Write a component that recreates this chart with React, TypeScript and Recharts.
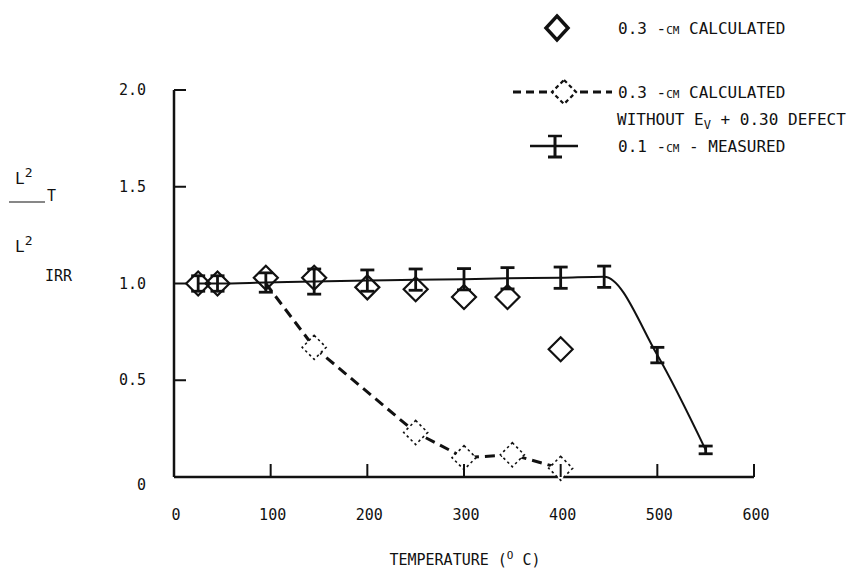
import React from "react";
import { ComposedChart, Line, XAxis, YAxis, ErrorBar } from "recharts";

// 0.3-cm calculated (open diamonds)
const calcX = [25, 45, 95, 145, 200, 250, 300, 345, 400];
const calcY = [1.0, 1.0, 1.03, 1.03, 0.98, 0.97, 0.93, 0.93, 0.66];

// 0.3-cm calculated without Ev + 0.30 defect (dotted diamonds, dashed line)
const noDefX = [95, 145, 250, 300, 350, 400];
const noDefY = [1.0, 0.67, 0.23, 0.1, 0.115, 0.045];

// 0.1-cm measured (error bars, solid line)
const measX = [25, 45, 95, 145, 200, 250, 300, 345, 400, 445, 500, 550];
const measY = [1.0, 1.0, 1.005, 1.01, 1.015, 1.02, 1.022, 1.027, 1.03, 1.035, 0.63, 0.14];
const measErr = [0.04, 0.04, 0.05, 0.065, 0.055, 0.055, 0.055, 0.055, 0.055, 0.055, 0.04, 0.02];

const xTicks = [0, 100, 200, 300, 400, 500, 600];
const yTicks = [0, 0.5, 1.0, 1.5, 2.0];

const calcData = calcX.map((x, i) => ({ x, y: calcY[i] }));
const noDefData = noDefX.map((x, i) => ({ x, y: noDefY[i] }));
const measData = measX.map((x, i) => ({ x, y: measY[i], err: measErr[i] }));

const FONT = "'DejaVu Sans Mono', monospace";
const INK = "#111";

const R = 12;
const Y_AXIS_W = 174;
const X_TICK_LEN = 13;
const Y_TICK_LEN = 12;
const X_LABEL_GAP = 38;
const Y_LABEL_GAP = 28;

const SolidDiamond = (props: any) => {
  const { cx, cy, index } = props;
  if (cx == null || cy == null) return <g key={`sd${index}`} />;
  return (
    <path
      key={`sd${index}`}
      d={`M${cx},${cy - R} L${cx + R},${cy} L${cx},${cy + R} L${cx - R},${cy} Z`}
      fill="none"
      stroke={INK}
      strokeWidth={2.2}
    />
  );
};

const DottedDiamond = (props: any) => {
  const { cx, cy, index } = props;
  if (cx == null || cy == null || index === 0) return <g key={`dd${index}`} />;
  return (
    <path
      key={`dd${index}`}
      d={`M${cx},${cy - R} L${cx + R},${cy} L${cx},${cy + R} L${cx - R},${cy} Z`}
      fill="#fff"
      stroke={INK}
      strokeWidth={1.6}
      strokeDasharray="2.5 3"
    />
  );
};

const yFmt = (v: number) => (v === 0 ? "0" : v.toFixed(1));

const XTick = (props: any) => {
  const { x, y, payload, index } = props;
  return (
    <g key={`xt${index}`}>
      {payload.value !== 0 && (
        <line x1={x} y1={y} x2={x} y2={y - X_TICK_LEN} stroke={INK} strokeWidth={2} />
      )}
      <text
        x={x + 2}
        y={y + X_LABEL_GAP}
        textAnchor="middle"
        dominantBaseline="central"
        fontSize={15}
        fontFamily={FONT}
        fill={INK}
      >
        {payload.value}
      </text>
    </g>
  );
};

const YTick = (props: any) => {
  const { y, payload, index } = props;
  const ax = Y_AXIS_W;
  return (
    <g key={`yt${index}`}>
      {payload.value !== 0 && (
        <line x1={ax} y1={y} x2={ax + Y_TICK_LEN} y2={y} stroke={INK} strokeWidth={2} />
      )}
      <text
        x={ax - Y_LABEL_GAP}
        y={payload.value === 0 ? y + 8 : y}
        textAnchor="end"
        dominantBaseline="central"
        fontSize={15}
        fontFamily={FONT}
        fill={INK}
      >
        {yFmt(payload.value)}
      </text>
    </g>
  );
};

export default function App() {
  return (
    <div style={{ position: "absolute", left: 0, top: 0, width: 851, height: 582, background: "#fff" }}>
      <ComposedChart
        width={851}
        height={582}
        margin={{ top: 90, right: 97, bottom: 0, left: 0 }}
        style={{ fontFamily: FONT }}
      >
        <XAxis
          type="number"
          dataKey="x"
          domain={[0, 600]}
          ticks={xTicks}
          height={105}
          tickSize={0}
          tickMargin={0}
          axisLine={{ stroke: INK, strokeWidth: 2.5 }}
          tickLine={false}
          tick={XTick}
          interval={0}
        />
        <YAxis
          type="number"
          domain={[0, 2]}
          ticks={yTicks}
          width={Y_AXIS_W}
          tickSize={0}
          tickMargin={0}
          axisLine={{ stroke: INK, strokeWidth: 2.5 }}
          tickLine={false}
          tick={YTick}
          interval={0}
        />
        <Line
          data={measData}
          dataKey="y"
          type="monotone"
          stroke={INK}
          strokeWidth={2}
          dot={false}
          isAnimationActive={false}
        >
          <ErrorBar dataKey="err" direction="y" width={7} stroke={INK} strokeWidth={2.8} />
        </Line>
        <Line
          data={noDefData}
          dataKey="y"
          type="linear"
          stroke={INK}
          strokeWidth={3}
          strokeDasharray="10 6"
          dot={DottedDiamond}
          isAnimationActive={false}
        />
        <Line
          data={calcData}
          dataKey="y"
          stroke="none"
          dot={SolidDiamond}
          isAnimationActive={false}
        />
      </ComposedChart>

      <svg
        width={851}
        height={582}
        style={{ position: "absolute", left: 0, top: 0, pointerEvents: "none" }}
        fontFamily={FONT}
        fill={INK}
      >
        {/* Y axis title */}
        <text x={15} y={178} fontSize={16} dominantBaseline="central">L<tspan dy={-6} fontSize={13}>2</tspan></text>
        <line x1={9} y1={202} x2={45} y2={202} stroke={INK} strokeWidth={1.2} />
        <text x={47} y={196} fontSize={15} dominantBaseline="central">T</text>
        <text x={15} y={246} fontSize={16} dominantBaseline="central">L<tspan dy={-6} fontSize={13}>2</tspan></text>
        <text x={45} y={276} fontSize={15} dominantBaseline="central">IRR</text>

        {/* X axis title */}
        <text x={465} y={560} fontSize={15} textAnchor="middle" dominantBaseline="central">
          TEMPERATURE (<tspan dy={-5} fontSize={11}>O</tspan><tspan dy={5}> C)</tspan>
        </text>

        {/* Legend row 1 */}
        <path d="M557,16 L568,28 L557,40 L546,28 Z" fill="none" stroke={INK} strokeWidth={3.5} />
        <text x={618} y={28} fontSize={16} dominantBaseline="central">
          0.3  <tspan style={{ fontVariant: "small-caps" }}>-cm</tspan> CALCULATED
        </text>

        {/* Legend row 2 */}
        <line x1={513} y1={92} x2={548} y2={92} stroke={INK} strokeWidth={3} strokeDasharray="8 5" />
        <line x1={580} y1={92} x2={612} y2={92} stroke={INK} strokeWidth={3} strokeDasharray="8 5" />
        <path d="M564,80 L576,92 L564,104 L552,92 Z" fill="none" stroke={INK} strokeWidth={2.2} strokeDasharray="4 3" />
        <text x={618} y={92} fontSize={16} dominantBaseline="central">
          0.3  <tspan style={{ fontVariant: "small-caps" }}>-cm</tspan> CALCULATED
        </text>
        <text x={617} y={119} fontSize={16} dominantBaseline="central">
          WITHOUT E<tspan dy={6} fontSize={12}>V</tspan><tspan dy={-6}> + 0.30 DEFECT</tspan>
        </text>

        {/* Legend row 3 */}
        <line x1={530} y1={146} x2={578} y2={146} stroke={INK} strokeWidth={2.5} />
        <line x1={555} y1={136} x2={555} y2={157} stroke={INK} strokeWidth={3} />
        <line x1={548} y1={136} x2={562} y2={136} stroke={INK} strokeWidth={2.5} />
        <line x1={548} y1={157} x2={562} y2={157} stroke={INK} strokeWidth={3} />
        <text x={618} y={146} fontSize={16} dominantBaseline="central">
          0.1  <tspan style={{ fontVariant: "small-caps" }}>-cm</tspan> - MEASURED
        </text>
      </svg>
    </div>
  );
}
